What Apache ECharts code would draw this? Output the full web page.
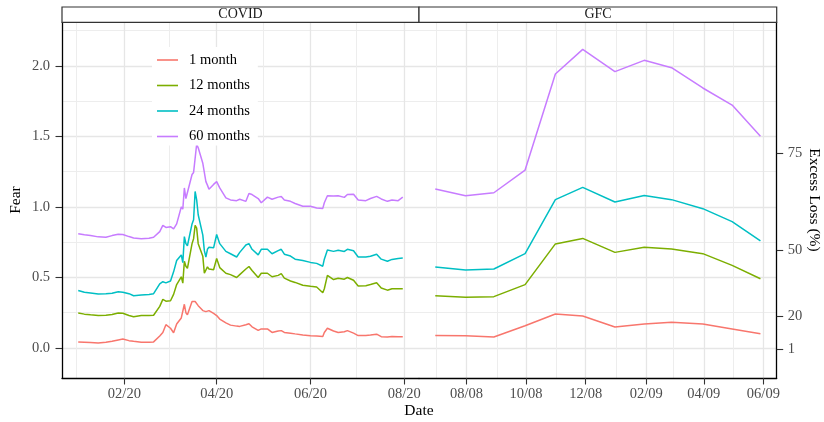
<!DOCTYPE html>
<html><head><meta charset="utf-8">
<script src="https://cdn.jsdelivr.net/npm/echarts@6/dist/echarts.min.js"></script>
<style>html,body{margin:0;padding:0;background:#fff}#c{width:824px;height:422px}</style>
</head><body><div id="c"></div>
<script>
const seriesNames = ['1 month','12 months','24 months','60 months'];
const panelNames = ['COVID','GFC'];

const covidDates = ['2020-01-02','2020-01-06','2020-01-10','2020-01-15','2020-01-20','2020-01-24','2020-01-28','2020-01-31',
'2020-02-04','2020-02-07','2020-02-12','2020-02-17','2020-02-20','2020-02-24','2020-02-26','2020-02-28',
'2020-03-02','2020-03-04','2020-03-06','2020-03-09','2020-03-10','2020-03-11','2020-03-12','2020-03-13','2020-03-16','2020-03-17','2020-03-18','2020-03-19','2020-03-20','2020-03-23','2020-03-24','2020-03-25','2020-03-26','2020-03-27','2020-03-30',
'2020-04-01','2020-04-03','2020-04-07','2020-04-10','2020-04-14','2020-04-16','2020-04-20','2020-04-22','2020-04-24','2020-04-28','2020-04-30',
'2020-05-04','2020-05-07','2020-05-11','2020-05-13','2020-05-15','2020-05-19','2020-05-22','2020-05-27',
'2020-06-01','2020-06-05','2020-06-09','2020-06-10','2020-06-12','2020-06-16','2020-06-19','2020-06-23','2020-06-25','2020-06-29',
'2020-07-02','2020-07-07','2020-07-10','2020-07-14','2020-07-17','2020-07-21','2020-07-24','2020-07-28','2020-07-31'];

const covid1m = [0.042,0.040,0.038,0.035,0.040,0.048,0.057,0.063,
0.052,0.047,0.040,0.040,0.043,0.085,0.110,0.165,
0.140,0.108,0.170,0.213,0.200,0.310,0.250,0.235,0.330,0.340,0.330,0.330,0.300,0.265,0.255,0.258,0.255,0.265,0.245,
0.230,0.205,0.178,0.162,0.155,0.153,0.165,0.172,0.150,0.125,0.135,
0.135,0.110,0.120,0.123,0.110,0.105,0.100,0.092,
0.087,0.085,0.082,0.110,0.140,0.120,0.110,0.115,0.123,0.105,
0.088,0.088,0.092,0.098,0.080,0.078,0.082,0.080,0.080];

const covid12m = [0.248,0.240,0.235,0.231,0.232,0.238,0.248,0.246,
0.230,0.222,0.231,0.230,0.232,0.295,0.345,0.332,
0.335,0.380,0.450,0.505,0.460,0.615,0.580,0.565,0.740,0.775,0.870,0.850,0.740,0.650,0.530,0.520,0.575,0.560,0.555,
0.635,0.570,0.530,0.520,0.500,0.520,0.560,0.578,0.550,0.500,0.530,
0.530,0.505,0.515,0.527,0.495,0.475,0.465,0.445,
0.437,0.432,0.392,0.420,0.515,0.485,0.495,0.488,0.500,0.480,
0.440,0.442,0.450,0.462,0.425,0.410,0.420,0.420,0.420];

const covid24m = [0.408,0.395,0.390,0.383,0.385,0.388,0.398,0.395,
0.385,0.370,0.375,0.380,0.385,0.455,0.470,0.462,
0.475,0.540,0.620,0.660,0.605,0.790,0.740,0.725,0.880,0.910,1.110,1.050,0.945,0.800,0.690,0.645,0.700,0.715,0.710,
0.805,0.740,0.685,0.668,0.645,0.678,0.730,0.740,0.700,0.660,0.700,
0.700,0.668,0.690,0.700,0.665,0.652,0.630,0.620,
0.607,0.600,0.580,0.630,0.695,0.685,0.693,0.685,0.700,0.690,
0.645,0.645,0.650,0.665,0.630,0.615,0.628,0.635,0.638];

const covid60m = [0.810,0.803,0.798,0.788,0.785,0.797,0.806,0.805,
0.790,0.780,0.775,0.778,0.785,0.825,0.870,0.855,
0.860,0.845,0.880,1.000,0.985,1.135,1.060,1.060,1.230,1.245,1.250,1.445,1.420,1.310,1.305,1.180,1.155,1.125,1.160,
1.180,1.135,1.065,1.050,1.045,1.055,1.040,1.095,1.088,1.060,1.030,
1.070,1.055,1.070,1.075,1.050,1.040,1.025,1.005,
1.005,0.993,0.990,1.030,1.080,1.078,1.080,1.068,1.088,1.090,
1.050,1.045,1.060,1.075,1.057,1.040,1.050,1.045,1.070];

const gfcDates = ['2008-06-30','2008-07-31','2008-08-29','2008-09-30','2008-10-31','2008-11-28','2008-12-31','2009-01-30','2009-02-27','2009-03-31','2009-04-30','2009-05-29'];
const gfc1m  = [0.089,0.087,0.078,0.158,0.241,0.227,0.149,0.170,0.182,0.170,0.135,0.101];
const gfc12m = [0.371,0.359,0.364,0.449,0.738,0.777,0.678,0.714,0.702,0.669,0.586,0.491];
const gfc24m = [0.574,0.553,0.560,0.669,1.052,1.139,1.035,1.082,1.052,0.988,0.896,0.759];
const gfc60m = [1.128,1.080,1.101,1.262,1.943,2.118,1.960,2.040,1.988,1.844,1.723,1.501];

const covidTicks = ['2020-02-01','2020-04-01','2020-06-01','2020-08-01'];
const covidMinor = ['2020-01-01','2020-03-01','2020-05-01','2020-07-01'];
const gfcTicks = ['2008-08-01','2008-10-01','2008-12-01','2009-02-01','2009-04-01','2009-06-01'];
const gfcMinor = ['2008-07-01','2008-09-01','2008-11-01','2009-01-01','2009-03-01','2009-05-01'];
const fearTicks = [0, 0.5, 1.0, 1.5, 2.0];
const fearMinor = [0.25, 0.75, 1.25, 1.75, 2.25];
const lossTickPos = [-0.012, 0.222, 0.692, 1.383];
const lossTickLabels = ['1', '20', '50', '75'];

const colors = ['#F8766D', '#7CAE00', '#00BFC4', '#C77CFF'];
const FONT = "'Liberation Serif', 'DejaVu Serif', serif";
const FS = 14.5;

function t(s){ const p = s.split('-'); return new Date(+p[0], +p[1]-1, +p[2]).getTime(); }
function pad(v){ return (v < 10 ? '0' : '') + v; }
function fmtDate(v){ const d = new Date(Math.round(v)); return pad(d.getMonth()+1) + '/' + pad(d.getFullYear() % 100); }
function expand(dates){ const a = t(dates[0]), b = t(dates[dates.length-1]); const e = (b-a)*0.05; return [a-e, b+e]; }

const covidRange = expand(covidDates);
const gfcRange = expand(gfcDates);
const yMin = -0.213, yMax = 2.312;

const majorGrid = {show:true, lineStyle:{color:'#e6e6e6', width:1.3}};
const minorGrid = {show:true, lineStyle:{color:'#ededed', width:1}};
const tickStyle = {show:true, length:6.5, lineStyle:{color:'#333', width:1.1}};
const axisLineStyle = {show:true, onZero:false, lineStyle:{color:'#000', width:1.3}};
const labelBase = {color:'#4d4d4d', fontFamily:FONT, fontSize:FS};

function mainX(grid, range, ticks){
  const cv = ticks.map(t);
  return {type:'value', gridIndex:grid, min:range[0], max:range[1], position:'bottom', scale:true,
    axisLine:axisLineStyle, axisTick:Object.assign({customValues:cv}, tickStyle),
    axisLabel:Object.assign({customValues:cv, formatter:fmtDate, margin:9, hideOverlap:false}, labelBase),
    splitLine:majorGrid};
}
function minorX(grid, range, ticks){
  const cv = ticks.map(t);
  return {type:'value', gridIndex:grid, min:range[0], max:range[1], position:'top', scale:true,
    axisLine:{show:false}, axisTick:{show:false, customValues:cv}, axisLabel:{show:false, customValues:cv},
    splitLine:minorGrid};
}
function hiddenY(grid, ticks, split){
  return {type:'value', gridIndex:grid, min:yMin, max:yMax, position:'left',
    axisLine:{show:false}, axisTick:{show:false, customValues:ticks}, axisLabel:{show:false, customValues:ticks},
    splitLine:split};
}

const xAxis = [
  mainX(0, covidRange, covidTicks), minorX(0, covidRange, covidMinor),
  mainX(1, gfcRange, gfcTicks), minorX(1, gfcRange, gfcMinor)
];
const yAxis = [
  {type:'value', gridIndex:0, min:yMin, max:yMax, position:'left',
   axisLine:axisLineStyle, axisTick:Object.assign({customValues:fearTicks}, tickStyle),
   axisLabel:Object.assign({customValues:fearTicks, formatter:v=>v.toFixed(1), margin:12}, labelBase),
   splitLine:majorGrid,
   name:'Fear', nameLocation:'middle', nameRotate:90, nameGap:38,
   nameTextStyle:{color:'#000', fontFamily:FONT, fontSize:FS+1}},
  hiddenY(0, fearMinor, minorGrid),
  hiddenY(1, fearTicks, majorGrid),
  hiddenY(1, fearMinor, minorGrid),
  {type:'value', gridIndex:1, min:yMin, max:yMax, position:'right',
   axisLine:axisLineStyle, axisTick:Object.assign({customValues:lossTickPos}, tickStyle),
   axisLabel:Object.assign({customValues:lossTickPos, margin:11,
     formatter:v=>{let bi=0,bd=1e9; lossTickPos.forEach((p,i)=>{const d=Math.abs(p-v); if(d<bd){bd=d;bi=i;}}); return lossTickLabels[bi];}}, labelBase),
   splitLine:{show:false},
   name:'Excess Loss (%)', nameLocation:'middle', nameRotate:-90, nameGap:27,
   nameTextStyle:{color:'#000', fontFamily:FONT, fontSize:FS+1}}
];

const covidVals = [covid1m, covid12m, covid24m, covid60m];
const gfcVals = [gfc1m, gfc12m, gfc24m, gfc60m];
const series = [];
seriesNames.forEach((n,i)=>{
  series.push({name:n, type:'line', xAxisIndex:0, yAxisIndex:0, symbol:'none', color:colors[i],
    lineStyle:{width:1.5, color:colors[i]}, data:covidDates.map((d,j)=>[t(d), covidVals[i][j]]), z:3});
  series.push({name:n, type:'line', xAxisIndex:2, yAxisIndex:2, symbol:'none', color:colors[i],
    lineStyle:{width:1.5, color:colors[i]}, data:gfcDates.map((d,j)=>[t(d), gfcVals[i][j]]), z:3});
});

const chart = echarts.init(document.getElementById('c'), null, {renderer:'canvas'});
chart.setOption({
  animation:false,
  backgroundColor:'#fff',
  grid:[{left:62, top:22, width:357, height:356}, {left:419, top:22, width:357.7, height:356}],
  xAxis, yAxis, series,
  legend:{data:seriesNames, orient:'vertical', left:152, top:47, padding:[5,8,1,5], backgroundColor:'#fff',
    icon:'rect', itemWidth:21, itemHeight:1.6, itemGap:9.5,
    textStyle:{fontFamily:FONT, fontSize:FS, color:'#000', lineHeight:16, padding:[0,0,0,6]}},
  graphic:[
    {type:'rect', shape:{x:62, y:7, width:357, height:15.3}, style:{fill:'#fff', stroke:'#333', lineWidth:1.2}, z:10},
    {type:'rect', shape:{x:419, y:7, width:357.7, height:15.3}, style:{fill:'#fff', stroke:'#333', lineWidth:1.2}, z:10},
    {type:'text', x:240.5, y:14.8, style:{text:panelNames[0], fill:'#1a1a1a', font:`${FS-0.5}px ${FONT}`, align:'center', verticalAlign:'middle'}, z:11},
    {type:'text', x:598, y:14.8, style:{text:panelNames[1], fill:'#1a1a1a', font:`${FS-0.5}px ${FONT}`, align:'center', verticalAlign:'middle'}, z:11},
    {type:'text', x:419, y:411, style:{text:'Date', fill:'#000', font:`${FS+1}px ${FONT}`, align:'center', verticalAlign:'middle'}, z:11}
  ]
});
</script></body></html>
